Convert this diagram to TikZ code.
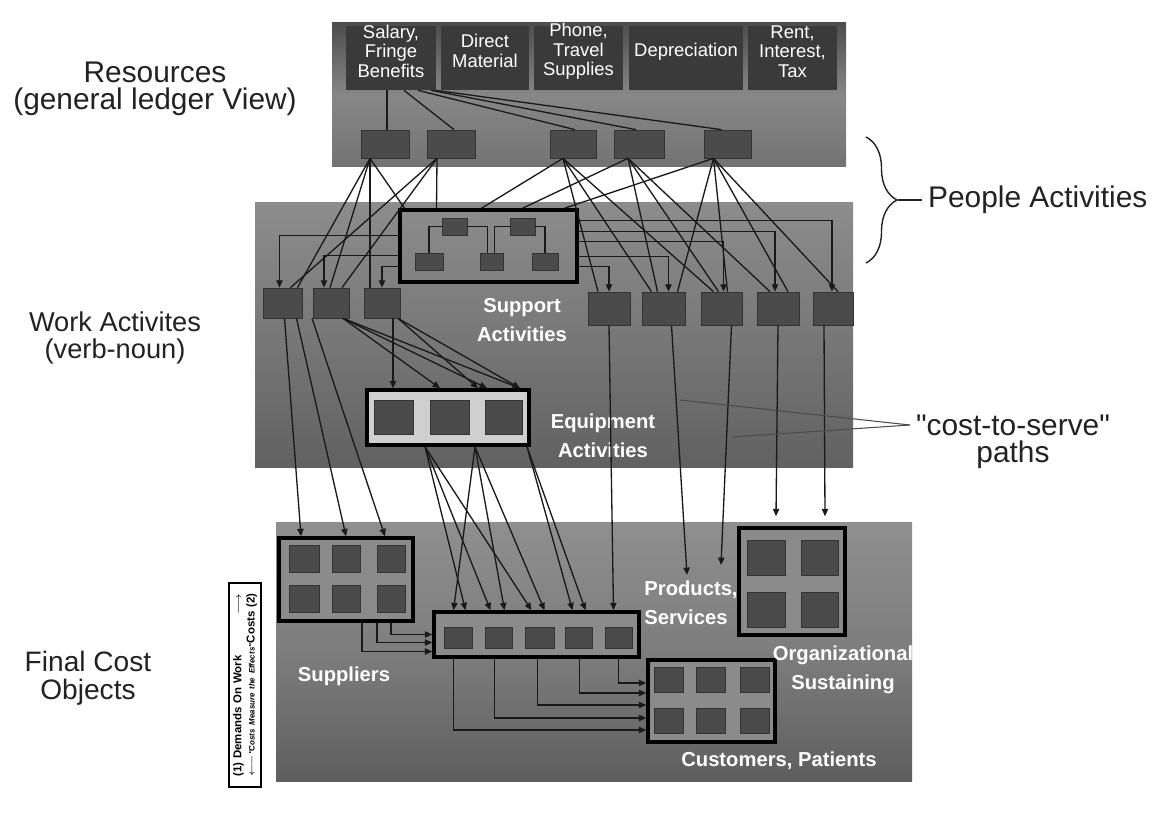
\documentclass[tikz,border=0pt]{standalone}
\usepackage{fontspec}
\setmainfont{Liberation Sans}
\usepackage{amsmath}
\usetikzlibrary{positioning,arrows.meta,calc,fit,decorations.pathreplacing}

\definecolor{boxdark}{HTML}{4B4B4B}
\definecolor{headdark}{HTML}{3A3A3A}
\definecolor{inkgray}{HTML}{222222}
\definecolor{eqfill}{HTML}{CFCFCF}
\definecolor{grpfill}{HTML}{8B8B8B}

\begin{document}
\begin{tikzpicture}[x=0.02cm, y=-0.02cm,
  panel/.style={inner sep=0pt, draw=none},
  hbox/.style={fill=headdark, inner sep=0pt, text=white, align=center,
    font=\fontsize{10.5}{11.3}\selectfont},
  dbox/.style={fill=boxdark, draw=black!80, line width=0.4pt, inner sep=0pt},
  grp/.style={draw=black, line width=2pt, inner sep=0pt},
  wire/.style={draw=black!90, line width=0.75pt},
  feed/.style={wire, -{Triangle[length=4.2pt,width=3.6pt]}},
  lbl/.style={text=white, align=center, font=\bfseries\fontsize{11.5}{16.5}\selectfont},
  side/.style={text=inkgray, align=center, font=\fontsize{17}{15.5}\selectfont}]

\fill[white] (0,0) rectangle (1163,813);
\useasboundingbox (0,0) rectangle (1163,813);

% three panels
\node[panel, fit={(332,23) (846,167)}, top color=black!70, bottom color=black!55, middle color=black!47] (res) {};
\node[panel, fit={(255,203) (853,468)}, top color=black!45, bottom color=black!62, middle color=black!53] (work) {};
\node[panel, fit={(276,523) (912,781)}, top color=black!44, bottom color=black!63, middle color=black!51] (final) {};

% general ledger accounts
\foreach \nm/\xa/\xb/\txt in {sal/346/436/{Salary,\\Fringe\\Benefits}, mat/441/529/{Direct\\Material},
    tel/534/623/{Phone,\\Travel\\Supplies}, dep/629/743/{Depreciation}, tax/748/837/{Rent,\\Interest,\\Tax}}
  \node[hbox, fit={(\xa,26) (\xb,90)}] (\nm) {\txt};
\foreach \n/\xa/\xb in {1/361/409, 2/427/475, 3/550/596, 4/614/664, 5/704/751}
  \node[dbox, fit={(\xa,130) (\xb,158)}] (tb\n) {};

% work activities
\node[grp, fit={(400,210) (577,282)}] (sup) {};
\node[dbox, fit={(442,218) (467,235)}] (s1) {};
\node[dbox, fit={(510,218) (535,235)}] (s2) {};
\node[dbox, fit={(415,253) (443,270)}] (s3) {};
\node[dbox, fit={(480,253) (503,270)}] (s4) {};
\node[dbox, fit={(532,253) (558,270)}] (s5) {};
\foreach \n/\xa/\xb in {1/263/302, 2/313/349, 3/364/400}
  \node[dbox, fit={(\xa,288) (\xb,318)}] (w\n) {};
\foreach \n/\xa/\xb in {1/588/630, 2/642/685, 3/701/742, 4/757/799, 5/813/853}
  \node[dbox, fit={(\xa,292) (\xb,325)}] (r\n) {};
\node[grp, fill=eqfill, fit={(367,390) (529,445)}] (eq) {};
\foreach \n/\xa/\xb in {1/374/413, 2/430/469, 3/485/522}
  \node[dbox, fit={(\xa,400) (\xb,434)}] (e\n) {};

% final cost objects
\node[grp, fill=grpfill, fit={(279,538) (413,621)}] (sbx) {};
\foreach \xa/\xb [count=\i] in {289/319, 332/360, 377/405}
  \foreach \ya/\yb [count=\j] in {545/572, 585/612}
    \node[dbox, fit={(\xa,\ya) (\xb,\yb)}] (sp\i\j) {};
\node[grp, fill=grpfill, fit={(434,612) (639,657)}] (bx) {};
\foreach \xa/\xb [count=\i] in {444/472, 485/512, 525/554, 565/592, 605/632}
  \node[dbox, fit={(\xa,627) (\xb,648)}] (pb\i) {};
\node[grp, fill=grpfill, fit={(648,660) (775,742)}] (cust) {};
\foreach \xa/\xb [count=\i] in {654/683, 696/725, 740/769}
  \foreach \ya/\yb [count=\j] in {667/692, 708/733}
    \node[dbox, fit={(\xa,\ya) (\xb,\yb)}] (cu\i\j) {};
\node[grp, fill=grpfill, fit={(739,528) (845,635)}] (org) {};
\foreach \xa/\xb [count=\i] in {747/785, 801/838}
  \foreach \ya/\yb [count=\j] in {540/575, 592/627}
    \node[dbox, fit={(\xa,\ya) (\xb,\yb)}] (og\i\j) {};

% white labels
\node[lbl] (suplbl) at (522,320) {Support\\Activities};
\node[lbl] (eqlbl) at (603,436) {Equipment\\Activities};
\node[lbl, align=left] (prodlbl) at (691,603) {Products,\\Services};
\node[lbl] (orglbl) at (843,670) {Organizational\\Sustaining};
\node[lbl] (splbl) at (344,676) {Suppliers};
\node[lbl] (custlbl) at (779,761) {Customers, Patients};

% ledger -> people activities
\foreach \sx/\dst/\tx in {-4/tb1/2, 13/tb2/3, 27/tb3/2, 40/tb4/-3, 45/tb5/-6}
  \draw[wire] ($(sal.south)+(\sx,0)$) -- ($(\dst.north)+(\tx,0)$);
\foreach \src/\sx/\dst/\tx in {tb1/-15/w1/15, tb1/-15/w2/-1, tb1/-15/w3/-12, tb1/-15/sup/-84,
    tb2/-14/w1/8, tb2/-14/w2/11, tb2/-14/sup/-52,
    tb3/-10/sup/-7, tb3/-10/r1/-11, tb3/-10/r2/-12, tb3/-10/r3/-8,
    tb4/-11/sup/34, tb4/-11/r2/-6, tb4/-11/r3/-3, tb4/-11/r4/-8,
    tb5/-14/sup/76, tb5/-14/r2/14, tb5/-14/r3/6, tb5/-14/r4/10, tb5/-14/r5/5}
  \draw[wire] ($(\src.south)+(\sx,0)$) -- ($(\dst.north)+(\tx,0)$);

% inside support activities
\draw[wire] (s1.west) -| (s3.north);
\draw[wire] (s1.east) -| ($(s4.north)+(-4,0)$);
\draw[wire] (s2.west) -| ($(s4.north)+(3,0)$);
\draw[wire] (s2.east) -| (s5.north);
\foreach \dy/\dst/\dx in {27/w1/-3, 47/w2/-7, 58/w3/0}
  \draw[feed] ($(sup.north west)+(0,\dy)$) -| ($(\dst.north)+(\dx,0)$);
\foreach \dy/\dst/\dx in {58/r1/0, 48/r2/5, 33/r3/2, 23/r4/-3, 12/r5/-1}
  \draw[feed] ($(sup.north east)+(0,\dy)$) -| ($(\dst.north)+(\dx,0)$);

% work -> equipment and suppliers
\foreach \src/\sx/\tx in {w1/2/-45, w1/14/0, w2/-19/39}
  \draw[feed] ($(\src.south)+(\sx,0)$) -- ($(sbx.north)+(\tx,0)$);
\foreach \src/\sx/\tx in {w2/12/-8, w2/12/39, w2/12/72, w3/16/30, w3/16/72, w3/11/-55}
  \draw[feed] ($(\src.south)+(\sx,0)$) -- ($(eq.north)+(\tx,0)$);
\foreach \sx/\tx in {-23/-71, -23/-46, -23/-5, 27/-83, 27/-32, 27/8, 79/36, 79/49}
  \draw[feed] ($(eq.south)+(\sx,0)$) -- ($(bx.north)+(\tx,0)$);
\draw[feed] (r1.south) -- ($(bx.north)+(77,0)$);

% cost objects
\coordinate (pa) at (687,575);
\coordinate (pc) at (721,565);
\draw[feed] ($(r2.south)+(8,0)$) -- (pa);
\draw[feed] ($(r3.south)+(10,0)$) -- (pc);
\draw[feed] (r4.south) -- ($(org.north)+(-16,-10)$);
\draw[feed] ($(r5.south)+(-9,0)$) -- ($(org.north)+(33,-10)$);
\foreach \sx/\ty in {16/17, 31/8, 45/0}
  \draw[feed] ($(sbx.south)+(\sx,0)$) |- ($(bx.west)+(0,\ty)$);
\foreach \sx/\ty in {-83/29, -42/17, 1/4, 43/-8, 82/-18}
  \draw[feed] ($(bx.south)+(\sx,0)$) |- ($(cust.west)+(0,\ty)$);

% side labels
\node[side] (reslbl) at (155,89) {Resources\\(general ledger View)};
\node[side, font=\fontsize{15.5}{15.5}\selectfont] (worklbl) at (115,338) {Work Activites\\(verb-noun)};
\node[side, font=\fontsize{16}{16}\selectfont] (finlbl) at (88,678) {Final Cost\\Objects};
\node[side, anchor=west] (people) at (922,200) {People Activities};
\node[side] (cts1) at (1013,425) {\textquotedbl cost-to-serve\textquotedbl};
\node[side] (cts2) at (1013,455) {paths};

\coordinate (bra) at (866,137);
\coordinate (brb) at (866,263);
\coordinate (brtip) at (898,200);
\draw[decorate, decoration={brace, amplitude=0.62cm}, line width=0.8pt, draw=inkgray] (bra) -- (brb);
\draw[line width=0.8pt, draw=inkgray] (brtip) -- (people.west);

\coordinate (cta) at (680,400);
\coordinate (ctb) at (732,437);
\draw[line width=0.6pt, draw=black!70] (cts1.west) -- (cta);
\draw[line width=0.6pt, draw=black!70] (cts1.west) -- (ctb);

% direction of assignment
\node[draw, line width=1.4pt, fill=white, inner sep=0pt, fit={(229,583) (261,787)}] (dirbox) {};
\node[rotate=90, text width=104pt, align=left, inner sep=0pt,
  font=\bfseries\fontsize{6.5}{7.6}\selectfont] (dirtxt) at (dirbox.center)
  {(1) Demands On Work\hfill$\longrightarrow$\\
   $\longleftarrow$\hfill{\fontsize{4.5}{5}\itshape\textquotedbl Costs Measure the Effects\textquotedbl}\hfill Costs (2)};
\end{tikzpicture}
\end{document}
